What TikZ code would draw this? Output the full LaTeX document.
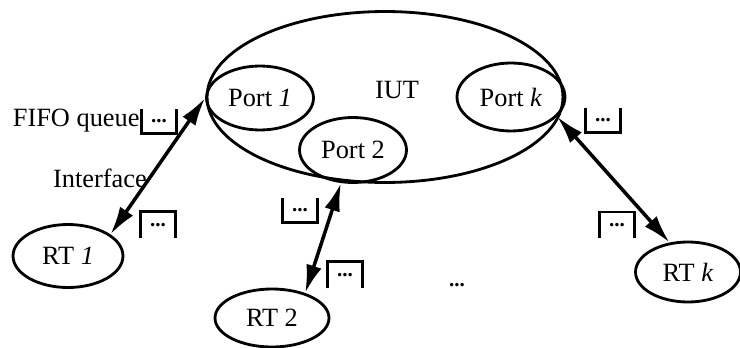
\documentclass[tikz,border=0pt]{standalone}
\usepackage{fontspec}
\setmainfont{Liberation Serif}
\usepackage{tikz}
\usetikzlibrary{shapes.geometric}
\usetikzlibrary{shapes,arrows.meta,positioning}
\tikzstyle{port} = [ellipse, draw, line width=1.6pt, inner sep=0pt,
    minimum width=2.14cm, minimum height=1.28cm]
\tikzstyle{queue} = [inner sep=0pt, minimum width=0.68cm, minimum height=0.48cm,
    font=\fontsize{12}{12}\selectfont\bfseries]
\tikzstyle{bin} = [draw, line width=1.5pt]
\tikzstyle{line} = [draw, line width=2pt,
    {Latex[length=16pt,width=9pt]}-{Latex[length=16pt,width=9pt]}]

\begin{document}
\begin{tikzpicture}[x=0.02cm, y=-0.02cm, font=\fontsize{15}{18}\selectfont]
    \useasboundingbox (0,0) rectangle (740,348);
    % Place nodes
    \node [port, minimum width=7.12cm, minimum height=3.42cm] (iut) at (385,97) {};
    \node (iutlabel) at (397,90) {IUT};
    \node [port] (port1) at (260,98) {Port \textit{1}};
    \node [port, minimum height=1.3cm] (port2) at (353,150) {Port 2};
    \node [port, minimum width=2.16cm, minimum height=1.36cm] (portk) at (511,97) {Port \textit{k}};
    \node [port, minimum width=2.2cm, minimum height=1.26cm] (rt1) at (68,256) {RT \textit{1}};
    \node [port, minimum width=2.28cm, minimum height=1.16cm] (rt2) at (272,318) {RT 2};
    \node [port, minimum width=2.1cm, minimum height=1.2cm] (rtk) at (688,272) {RT \textit{k}};
    \node (more) at (457,285) {\fontsize{12}{12}\selectfont\bfseries ...};

    % FIFO queues
    \node [queue] (fifo1) at (159,121) {...};
    \node [queue, minimum height=0.52cm] (fifo2) at (158,225) {...};
    \node [queue] (fifo3) at (300,210) {...};
    \node [queue, minimum height=0.52cm] (fifo4) at (345,275) {...};
    \node [queue] (fifo5) at (603,120) {...};
    \node [queue, minimum height=0.5cm] (fifo6) at (617,225) {...};
    \draw [bin] (fifo1.north west) |- (fifo1.south east) -- (fifo1.north east);
    \draw [bin] (fifo3.north west) |- (fifo3.south east) -- (fifo3.north east);
    \draw [bin] (fifo5.north west) |- (fifo5.south east) -- (fifo5.north east);
    \draw [bin] (fifo2.south west) |- (fifo2.north east) -- (fifo2.south east);
    \draw [bin] (fifo4.south west) |- (fifo4.north east) -- (fifo4.south east);
    \draw [bin] (fifo6.south west) |- (fifo6.north east) -- (fifo6.south east);

    \node [left=1pt of fifo1, inner sep=0pt] (fifolabel) {FIFO queue};
    \node (iflabel) at (100,178) {Interface};

    % Draw edges
    \path [line] (rt1.27) -- (port1.west);
    \path [line] (rt2.37) -- (port2.250);
    \path [line] (rtk.122) -- (portk.337);
\end{tikzpicture}
\end{document}
